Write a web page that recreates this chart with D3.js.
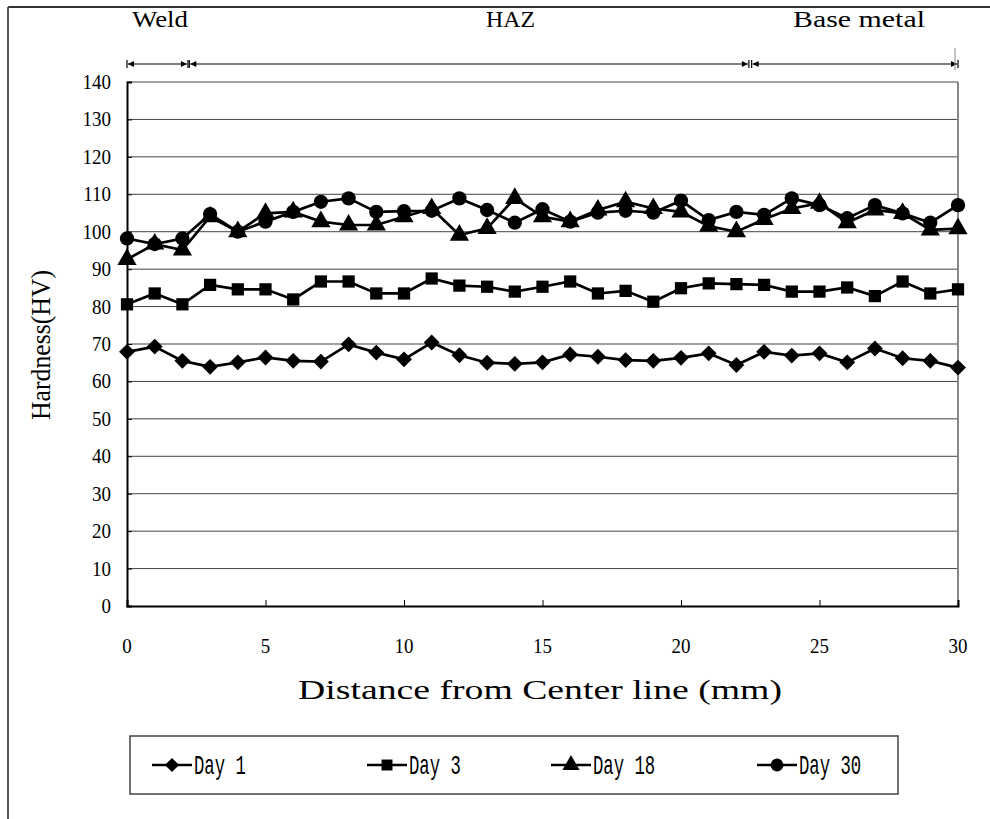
<!DOCTYPE html>
<html>
<head>
<meta charset="utf-8">
<script src="https://cdn.jsdelivr.net/npm/d3@7"></script>
<style>
  body { margin: 0; background: #fff; }
  svg { display: block; }
  .tick-label { font-family: "Liberation Serif", "Times New Roman", serif; font-size: 19px; fill: #000; }
  .axis-title { font-family: "Liberation Serif", "Times New Roman", serif; font-size: 28px; fill: #000; }
  .zone-label { font-family: "Liberation Serif", "Times New Roman", serif; font-size: 23px; fill: #000; }
  .legend-label { font-family: "Liberation Mono", "DejaVu Sans Mono", monospace; font-size: 24px; fill: #000; }
</style>
</head>
<body>
<svg id="chart" width="990" height="819"></svg>
<script>
// distance from center line (mm)
const distance = [0, 1, 2, 3, 4, 5, 6, 7, 8, 9, 10, 11, 12, 13, 14, 15, 16, 17, 18, 19, 20,
  21, 22, 23, 24, 25, 26, 27, 28, 29, 30];

const day1 = [67.9, 69.3, 65.5, 63.9, 65.1, 66.4, 65.5, 65.3, 69.9, 67.7, 65.9, 70.4, 67.0, 65.0, 64.7, 65.1,
  67.2, 66.6, 65.7, 65.5, 66.3, 67.5, 64.4, 67.9, 66.9, 67.5, 65.1, 68.8, 66.2, 65.5, 63.7];
const day3 = [80.6, 83.5, 80.6, 85.8, 84.6, 84.6, 81.9, 86.7, 86.7, 83.5, 83.5, 87.5, 85.6, 85.3, 84.0, 85.3,
  86.7, 83.5, 84.2, 81.3, 84.9, 86.2, 86.0, 85.8, 84.0, 84.0, 85.1, 82.8, 86.7, 83.5, 84.6];
const day18 = [92.6, 96.7, 95.1, 104.0, 100.0, 104.9, 105.3, 102.7, 101.8, 101.8, 104.0, 106.2, 99.1, 100.9, 108.9, 104.0,
  102.7, 105.8, 108.0, 106.2, 105.3, 101.5, 100.0, 103.3, 106.2, 107.6, 102.4, 105.8, 104.9, 100.5, 100.8];
const day30 = [98.2, 96.7, 98.2, 104.7, 100.0, 102.7, 105.3, 108.0, 108.9, 105.3, 105.5, 105.6, 108.9, 105.8, 102.4, 106.0,
  102.7, 105.1, 105.6, 105.1, 108.3, 103.1, 105.3, 104.5, 108.9, 107.1, 103.6, 107.1, 104.9, 102.4, 107.1];

const seriesNames = ['Day 1', 'Day 3', 'Day 18', 'Day 30'];
const seriesValues = [day1, day3, day18, day30];
const seriesSymbols = [d3.symbolDiamond2, d3.symbolSquare, d3.symbolTriangle, d3.symbolCircle];

const yTicks = [0, 10, 20, 30, 40, 50, 60, 70, 80, 90, 100, 110, 120, 130, 140];
const xTicks = [0, 5, 10, 15, 20, 25, 30];

// zones marked above the plot (mm)
const zoneNames = ['Weld', 'HAZ', 'Base metal'];
const zoneStart = [0, 2.25, 22.55];
const zoneEnd = [2.2, 22.45, 30];

const svg = d3.select('#chart');

const x = d3.scaleLinear().domain([0, 30]).range([127, 958]);
const y = d3.scaleLinear().domain([0, 140]).range([606, 82]);

// outer frame (top and left edge of the picture)
svg.append('line').attr('x1', 8).attr('x2', 990).attr('y1', 7).attr('y2', 7)
  .style('stroke', '#333').style('stroke-width', 2);
svg.append('line').attr('x1', 8).attr('x2', 8).attr('y1', 7).attr('y2', 819)
  .style('stroke', '#555').style('stroke-width', 2);

// gridlines
svg.append('g').selectAll('line')
  .data(yTicks.filter(d => d > 0))
  .join('line')
  .attr('x1', x(0)).attr('x2', x(30))
  .attr('y1', d => y(d)).attr('y2', d => y(d))
  .style('stroke', '#444').style('stroke-width', 1);

// right border of plot area
svg.append('line').attr('x1', x(30)).attr('x2', x(30)).attr('y1', y(140)).attr('y2', y(0))
  .style('stroke', '#888').style('stroke-width', 2);

// y axis
const yAxis = d3.axisRight(y).tickValues(yTicks).tickSize(5).tickFormat('');
const yAxisG = svg.append('g').attr('transform', `translate(${x(0)},0)`).call(yAxis);
yAxisG.select('.domain').style('stroke', '#000').style('stroke-width', 2);
yAxisG.selectAll('.tick line').style('stroke', '#000');
svg.append('g').selectAll('text')
  .data(yTicks)
  .join('text')
  .attr('class', 'tick-label')
  .attr('transform', d => `translate(111,${y(d) + 7}) scale(1,1.12)`)
  .attr('text-anchor', 'end')
  .text(d => d);

// x axis
const xAxis = d3.axisTop(x).tickValues(xTicks).tickSize(6).tickFormat('');
const xAxisG = svg.append('g').attr('transform', `translate(0,${y(0)})`).call(xAxis);
xAxisG.select('.domain').style('stroke', '#000').style('stroke-width', 2);
xAxisG.selectAll('.tick line').style('stroke', '#000');
svg.append('g').selectAll('text')
  .data(xTicks)
  .join('text')
  .attr('class', 'tick-label')
  .attr('transform', d => `translate(${x(d)},653) scale(1,1.12)`)
  .attr('text-anchor', 'middle')
  .text(d => d);

// axis titles
svg.append('text')
  .attr('class', 'axis-title')
  .attr('x', 298).attr('y', 699)
  .attr('textLength', 484)
  .attr('lengthAdjust', 'spacingAndGlyphs')
  .text('Distance from Center line (mm)');
svg.append('text')
  .attr('class', 'axis-title')
  .attr('transform', 'translate(50,420) rotate(-90)')
  .attr('textLength', 150)
  .attr('lengthAdjust', 'spacingAndGlyphs')
  .text('Hardness(HV)');

// zone arrows
const defs = svg.append('defs');
defs.append('marker')
  .attr('id', 'arrowEnd')
  .attr('viewBox', '0 0 10 10')
  .attr('refX', 10).attr('refY', 5)
  .attr('markerWidth', 8).attr('markerHeight', 6)
  .attr('markerUnits', 'userSpaceOnUse')
  .attr('orient', 'auto')
  .append('path').attr('d', 'M0,0L10,5L0,10Z').style('fill', '#000');
defs.append('marker')
  .attr('id', 'arrowStart')
  .attr('viewBox', '0 0 10 10')
  .attr('refX', 0).attr('refY', 5)
  .attr('markerWidth', 8).attr('markerHeight', 6)
  .attr('markerUnits', 'userSpaceOnUse')
  .attr('orient', 'auto')
  .append('path').attr('d', 'M10,0L0,5L10,10Z').style('fill', '#000');

const arrowY = 64;
const zones = svg.append('g');
zoneNames.forEach((name, i) => {
  zones.append('line')
    .attr('x1', x(zoneStart[i]) + 1).attr('x2', x(zoneEnd[i]) - 1)
    .attr('y1', arrowY).attr('y2', arrowY)
    .style('stroke', '#000').style('stroke-width', 1.2)
    .attr('marker-start', 'url(#arrowStart)')
    .attr('marker-end', 'url(#arrowEnd)');
  [zoneStart[i], zoneEnd[i]].forEach(v => {
    zones.append('line')
      .attr('x1', x(v)).attr('x2', x(v))
      .attr('y1', arrowY - 4).attr('y2', arrowY + 4)
      .style('stroke', '#000').style('stroke-width', 1.2);
  });
});
svg.append('line').attr('x1', x(30) - 3).attr('x2', x(30) - 3).attr('y1', 48).attr('y2', 70)
  .style('stroke', '#888').style('stroke-width', 1);
svg.append('text').attr('class', 'zone-label').attr('x', 132).attr('y', 27)
  .attr('textLength', 56).attr('lengthAdjust', 'spacingAndGlyphs').text(zoneNames[0]);
svg.append('text').attr('class', 'zone-label').attr('x', 486).attr('y', 27)
  .attr('textLength', 49).attr('lengthAdjust', 'spacingAndGlyphs').text(zoneNames[1]);
svg.append('text').attr('class', 'zone-label').attr('x', 793).attr('y', 27)
  .attr('textLength', 132).attr('lengthAdjust', 'spacingAndGlyphs').text(zoneNames[2]);

// series
const line = d3.line().x((d, i) => x(distance[i])).y(d => y(d));
const symbolSizes = [160, 150, 160, 160];

seriesValues.forEach((vals, s) => {
  const g = svg.append('g').attr('class', 'series');
  g.append('path')
    .datum(vals)
    .attr('d', line)
    .style('fill', 'none')
    .style('stroke', '#000')
    .style('stroke-width', 2.7);
  g.selectAll('path.mark')
    .data(vals)
    .join('path')
    .attr('class', 'mark')
    .attr('transform', (d, i) => `translate(${x(distance[i])},${y(d)})`)
    .attr('d', d3.symbol().type(seriesSymbols[s]).size(symbolSizes[s]))
    .style('fill', '#000');
});

// legend
const legendG = svg.append('g');
legendG.append('rect')
  .attr('x', 130).attr('y', 736)
  .attr('width', 768).attr('height', 58)
  .style('fill', '#fff').style('stroke', '#444').style('stroke-width', 1.5);
const legendX = [152, 367, 551, 757];
seriesNames.forEach((name, s) => {
  const lx = legendX[s];
  legendG.append('line')
    .attr('x1', lx).attr('x2', lx + 40)
    .attr('y1', 765).attr('y2', 765)
    .style('stroke', '#000').style('stroke-width', 2.5);
  legendG.append('path')
    .attr('transform', `translate(${lx + 20},765)`)
    .attr('d', d3.symbol().type(seriesSymbols[s]).size(symbolSizes[s] * 0.8))
    .style('fill', '#000');
  legendG.append('text')
    .attr('class', 'legend-label')
    .attr('transform', `translate(${lx + 42},774) scale(0.72,1.12)`)
    .text(name);
});
</script>
</body>
</html>
